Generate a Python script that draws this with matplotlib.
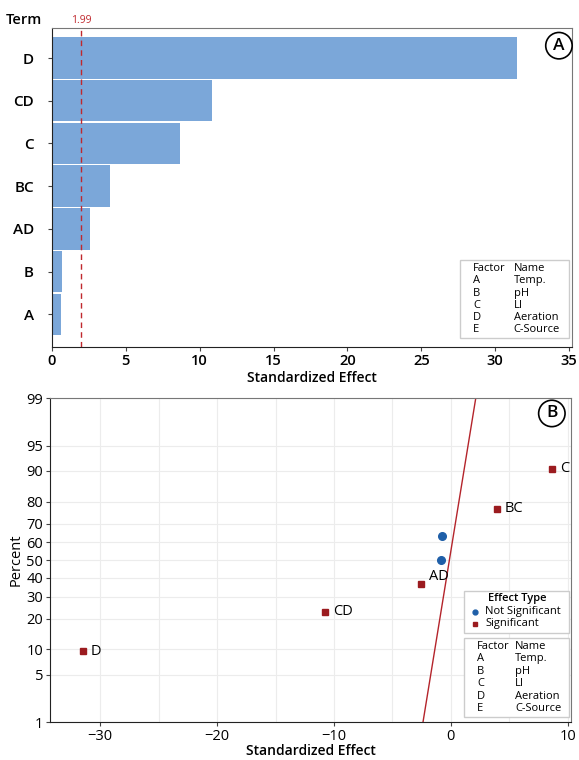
import numpy as np
import matplotlib
matplotlib.use("Agg")
import matplotlib.pyplot as plt
from matplotlib.transforms import Transform
from matplotlib.scale import ScaleBase, register_scale
from matplotlib.patches import Rectangle
from statistics import NormalDist

plt.rcParams["font.family"] = ["Open Sans", "DejaVu Sans"]

# Pareto chart data (panel A)
terms = ["A", "B", "AD", "BC", "C", "CD", "D"]
effects = [0.62, 0.70, 2.57, 3.92, 8.65, 10.8, 31.5]
critical = 1.99

# Normal plot data (panel B)
np_labels = ["D", "CD", "AD", "", "", "BC", "C"]
np_effects = [-31.5, -10.8, -2.57, -0.80, -0.75, 3.92, 8.65]
np_percent = [9.5, 23.0, 36.5, 50.0, 63.5, 77.0, 90.5]
np_signif = [True, True, True, False, False, True, True]
fit_mu, fit_sigma = -0.12, 0.97

factors = ["A", "B", "C", "D", "E"]
factor_names = ["Temp.", "pH", "LI", "Aeration", "C-Source"]

ND = NormalDist()


class ProbTransform(Transform):
    input_dims = output_dims = 1

    def transform_non_affine(self, a):
        a = np.clip(np.asarray(a, float), 1e-6, 100 - 1e-6) / 100.0
        return np.array([ND.inv_cdf(v) for v in a.ravel()]).reshape(a.shape)

    def inverted(self):
        return InvProbTransform()


class InvProbTransform(Transform):
    input_dims = output_dims = 1

    def transform_non_affine(self, a):
        a = np.asarray(a, float)
        return np.array([ND.cdf(v) * 100 for v in a.ravel()]).reshape(a.shape)

    def inverted(self):
        return ProbTransform()


class ProbScale(ScaleBase):
    name = "prob"

    def get_transform(self):
        return ProbTransform()

    def set_default_locators_and_formatters(self, axis):
        pass


register_scale(ProbScale)

fig = plt.figure(figsize=(5.79, 7.60), dpi=100)
tick_kw = dict(labelsize=10.5, length=3, color="#444444", pad=2)
spine_col = "#777777"


def factor_table(ax, x0, y0, w, h):
    ax.add_patch(Rectangle((x0, y0), w, h, transform=ax.transAxes,
                           fc="white", ec="#cccccc", lw=1, zorder=5))
    rows = [("Factor", "Name")] + list(zip(factors, factor_names))
    dy = h / (len(rows) + 0.4)
    for i, (f, n) in enumerate(rows):
        yy = y0 + h - dy * (i + 0.7)
        ax.text(x0 + 0.025, yy, f, transform=ax.transAxes, fontsize=8,
                va="center", zorder=6)
        ax.text(x0 + w * 0.49, yy, n, transform=ax.transAxes, fontsize=8,
                va="center", zorder=6)


def circle_label(ax, x, y, s):
    ax.text(x, y, s, transform=ax.transAxes, ha="center", va="center",
            fontsize=12.5, fontweight="semibold", zorder=7,
            bbox=dict(boxstyle="circle,pad=0.3", fc="white", ec="black", lw=1.2))


# ---------------- Panel A ----------------
ax1 = fig.add_axes([0.0898, 0.543, 0.898, 0.420])
ypos = np.arange(len(terms))
ax1.barh(ypos, effects, height=0.97, color="#7ba7d9", edgecolor="none")
ax1.axvline(critical, color="#c0282d", ls=(0, (4, 3)), lw=1)
ax1.set_xlim(0, 35.2)
ax1.set_ylim(-0.77, 6.7)
ax1.set_yticks(ypos)
ax1.set_yticklabels(terms, fontweight="semibold")
ax1.set_xticks(np.arange(0, 36, 5))
ax1.tick_params(**tick_kw)
ax1.tick_params(axis="y", pad=10, labelsize=11)
for lab in ax1.get_xticklabels():
    lab.set_fontweight("semibold")
ax1.set_xlabel("Standardized Effect", fontsize=10, fontweight="semibold", labelpad=2)
for s in ax1.spines.values():
    s.set_color(spine_col)
ax1.spines["left"].set_color("#222222")
ax1.spines["bottom"].set_color("#222222")
ax1.text(-0.055, 1.005, "Term", transform=ax1.transAxes, ha="center", va="bottom",
         fontsize=10.5, fontweight="semibold")
ax1.text(critical, 6.75, "1.99", color="#c0282d", fontsize=7.5, ha="center", va="bottom")
circle_label(ax1, 0.975, 0.945, "A")
factor_table(ax1, 0.785, 0.028, 0.21, 0.245)

# ---------------- Panel B ----------------
ax2 = fig.add_axes([0.0864, 0.050, 0.900, 0.426])
ax2.set_yscale("prob")
ax2.set_ylim(1, 99)
ax2.set_xlim(-34.3, 10.3)
pticks = [1, 5, 10, 20, 30, 40, 50, 60, 70, 80, 90, 95, 99]
ax2.set_yticks(pticks)
ax2.set_yticklabels([str(p) for p in pticks])
ax2.set_xticks([-30, -20, -10, 0, 10])
ax2.set_xticks(np.arange(-30, 11, 5), minor=True)
ax2.tick_params(**tick_kw)
ax2.tick_params(axis="x", which="minor", length=0)
ax2.grid(True, which="both", color="#ececec", lw=0.8)
ax2.set_axisbelow(True)
for s in ax2.spines.values():
    s.set_color(spine_col)
ax2.spines["left"].set_color("#222222")
ax2.spines["bottom"].set_color("#222222")
ax2.set_xlabel("Standardized Effect", fontsize=10, fontweight="semibold", labelpad=0)
ax2.set_ylabel("Percent", fontsize=10.5, labelpad=2)

pp = np.linspace(0.5, 99.5, 200)
zz = np.array([ND.inv_cdf(p / 100) for p in pp])
ax2.plot(fit_mu + fit_sigma * zz, pp, color="#b4242b", lw=1)

for x, p, lab, sig in zip(np_effects, np_percent, np_labels, np_signif):
    if sig:
        ax2.plot(x, p, "s", color="#9b1b1f", ms=5, zorder=4)
    else:
        ax2.plot(x, p, "o", color="#1f5fa8", ms=5.5, zorder=4)
    if lab:
        ax2.annotate(lab, (x, p), xytext=(6, 0), textcoords="offset points",
                     fontsize=10.5, ha="left",
                     va="bottom" if lab == "AD" else "center")

circle_label(ax2, 0.963, 0.953, "B")

# effect type legend
bx, by, bw, bh = 0.795, 0.275, 0.2, 0.13
ax2.add_patch(Rectangle((bx, by), bw, bh, transform=ax2.transAxes,
                        fc="white", ec="#cccccc", lw=1, zorder=5))
ax2.text(bx + 0.045, by + bh - 0.025, "Effect Type", transform=ax2.transAxes, fontsize=8,
         fontweight="semibold", va="center", zorder=6)
ax2.plot(bx + 0.02, by + bh * 0.5, "o", color="#1f5fa8", ms=3.5, transform=ax2.transAxes,
         zorder=6, clip_on=False)
ax2.text(bx + 0.04, by + bh * 0.5, "Not Significant", transform=ax2.transAxes, fontsize=8,
         va="center", zorder=6)
ax2.plot(bx + 0.02, by + bh * 0.22, "s", color="#9b1b1f", ms=3.5, transform=ax2.transAxes,
         zorder=6, clip_on=False)
ax2.text(bx + 0.04, by + bh * 0.22, "Significant", transform=ax2.transAxes, fontsize=8,
         va="center", zorder=6)

factor_table(ax2, 0.795, 0.015, 0.2, 0.245)

fig.savefig("out.png", dpi=100)
